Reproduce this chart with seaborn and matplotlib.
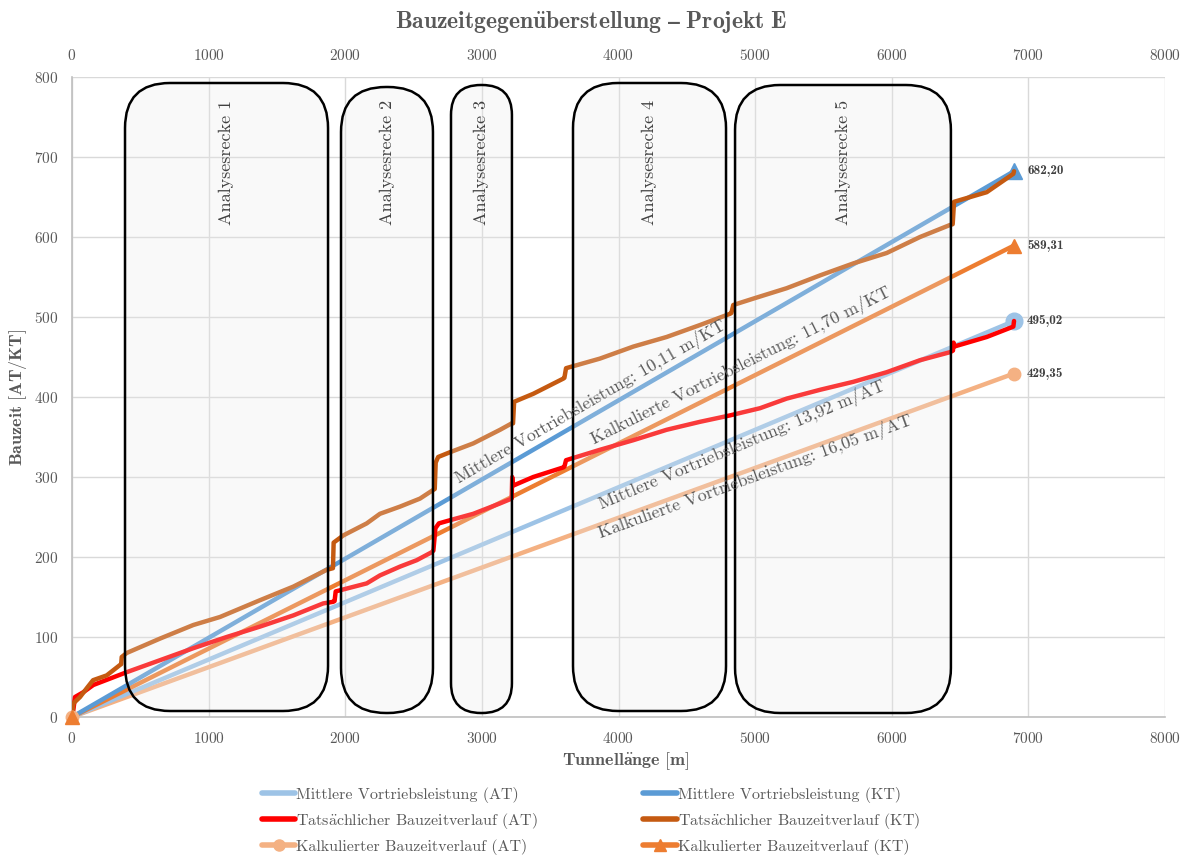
import math
import numpy as np
import pandas as pd
import matplotlib
matplotlib.use("Agg")
import matplotlib.pyplot as plt
from matplotlib.patches import FancyBboxPatch
from matplotlib.lines import Line2D
import seaborn as sns

# ---------------------------------------------------------------- data
tunnel_length = 6895.0  # m

end_mean_at = 495.02   # Mittlere Vortriebsleistung (AT)
end_mean_kt = 682.20   # Mittlere Vortriebsleistung (KT)
end_calc_at = 429.35   # Kalkulierter Bauzeitverlauf (AT)
end_calc_kt = 589.31   # Kalkulierter Bauzeitverlauf (KT)

# Tatsächlicher Bauzeitverlauf (KT)
kt_x = [0, 10, 59, 108, 154, 254, 351, 360, 364, 400, 644, 888, 1083, 1376,
        1620, 1864, 1910, 1915, 1986, 2157, 2254, 2401, 2547, 2645, 2655,
        2662, 2680, 2767, 2937, 3133, 3218, 3228, 3236, 3376, 3596, 3604,
        3616, 3864, 4108, 4352, 4597, 4816, 4826, 4840, 4987, 5231, 5475,
        5719, 5963, 6207, 6426, 6446, 6456, 6695, 6890, 6895]
kt_y = [0, 17, 25, 36, 46, 52, 65, 66, 75, 80, 98, 115, 125, 146,
        163, 184, 186, 218, 227, 242, 254, 263, 273, 284, 285,
        318, 325, 331, 342, 359, 367, 367, 394, 404, 423, 424,
        436, 448, 463, 475, 490, 504, 505, 515, 523, 536, 552,
        567, 580, 600, 615, 616, 644, 656, 679, 682.20]

# Tatsächlicher Bauzeitverlauf (AT)
at_x = [0, 10, 22, 83, 156, 278, 400, 644, 888, 1132, 1376, 1620, 1839,
        1912, 1922, 1930, 2157, 2254, 2401, 2523, 2633, 2645, 2660, 2685,
        2767, 2937, 3133, 3218, 3222, 3226, 3376, 3596, 3604, 3616, 3864,
        4108, 4352, 4597, 4816, 5036, 5231, 5475, 5719, 5963, 6207, 6426,
        6448, 6452, 6456, 6695, 6890, 6895]
at_y = [0, 9, 25, 31, 40, 48, 56, 71, 86, 100, 113, 127, 142,
        144, 145, 157, 167, 177, 188, 196, 206, 208, 236, 242,
        246, 254, 267, 273, 300, 289, 300, 312, 313, 321, 334,
        346, 359, 369, 377, 386, 398, 409, 419, 431, 446, 456,
        458, 468, 463, 475, 488, 495.02]

# Analysestrecken: start / end [m], bottom / top [AT/KT]
sections = ["Analysesrecke 1", "Analysesrecke 2", "Analysesrecke 3",
            "Analysesrecke 4", "Analysesrecke 5"]
sec_x0 = [388, 1969, 2774, 3667, 4853]
sec_x1 = [1874, 2642, 3220, 4787, 6433]
sec_y0 = [7.5, 5, 5, 7.5, 5]
sec_y1 = [792.5, 787.5, 790, 792.5, 790]

x_ticks = list(range(0, 8001, 1000))
y_ticks = list(range(0, 801, 100))

# ---------------------------------------------------------------- style
sns.set_theme(style="whitegrid")
plt.rcParams["font.family"] = ["cmr10", "DejaVu Serif"]
plt.rcParams["axes.formatter.use_mathtext"] = True
plt.rcParams["mathtext.fontset"] = "cm"
BOLD = ["cmb10", "DejaVu Serif"]

TXT = "#595959"
C_MEAN_AT = "#9DC3E6"
C_MEAN_KT = "#5B9BD5"
C_ACT_AT = "#FF0000"
C_ACT_KT = "#C55A11"
C_CALC_AT = "#F4B183"
C_CALC_KT = "#ED7D31"
LW = 3.2

fig = plt.figure(figsize=(11.82, 8.56), dpi=100)
ax = fig.add_axes([72 / 1182, 1 - 717 / 856, (1165 - 72) / 1182, (717 - 77) / 856])
ax.set_xlim(0, 8000)
ax.set_ylim(0, 800)
ax.set_facecolor("white")

ax.grid(True, color="#D9D9D9", lw=1.0)
for s in ["top", "right"]:
    ax.spines[s].set_visible(False)
for s in ["left", "bottom"]:
    ax.spines[s].set_color("#BFBFBF")
    ax.spines[s].set_linewidth(1.2)

ax.set_xticks(x_ticks)
ax.set_yticks(y_ticks)
ax.tick_params(axis="both", length=0, pad=10, labelsize=11, labelcolor=TXT)
sec = ax.secondary_xaxis("top")
sec.set_xticks(x_ticks)
sec.tick_params(length=0, pad=10, labelsize=11, labelcolor=TXT)
sec.spines["top"].set_visible(False)

# ---------------------------------------------------------------- lines
mean_at = pd.DataFrame({"x": [0, tunnel_length], "y": [0, end_mean_at]})
mean_kt = pd.DataFrame({"x": [0, tunnel_length], "y": [0, end_mean_kt]})
calc_at = pd.DataFrame({"x": [0, tunnel_length], "y": [0, end_calc_at]})
calc_kt = pd.DataFrame({"x": [0, tunnel_length], "y": [0, end_calc_kt]})
act_at = pd.DataFrame({"x": at_x, "y": at_y})
act_kt = pd.DataFrame({"x": kt_x, "y": kt_y})

kw = dict(x="x", y="y", ax=ax, sort=False, estimator=None, lw=LW, legend=False)
sns.lineplot(data=calc_at, color=C_CALC_AT, zorder=3, **kw)
sns.lineplot(data=mean_at, color=C_MEAN_AT, zorder=3, **kw)
sns.lineplot(data=calc_kt, color=C_CALC_KT, zorder=3, **kw)
sns.lineplot(data=mean_kt, color=C_MEAN_KT, zorder=3, **kw)
sns.lineplot(data=act_at, color=C_ACT_AT, zorder=4, **kw)
sns.lineplot(data=act_kt, color=C_ACT_KT, zorder=4, **kw)
ax.set_xlabel("")
ax.set_ylabel("")

# markers
ax.plot(calc_at["x"], calc_at["y"], ls="none", marker="o", ms=9,
        color=C_CALC_AT, zorder=5, clip_on=False)
ax.plot(calc_kt["x"], calc_kt["y"], ls="none", marker="^", ms=10,
        color=C_CALC_KT, zorder=5, clip_on=False)
ax.plot([tunnel_length], [end_mean_at], ls="none", marker="o", ms=12,
        color=C_MEAN_AT, zorder=3.5, clip_on=False)
ax.plot([tunnel_length], [end_mean_kt], ls="none", marker="^", ms=11,
        color=C_MEAN_KT, zorder=3.5, clip_on=False)

# end values
for v in [end_mean_kt, end_calc_kt, end_mean_at, end_calc_at]:
    ax.text(6990, v, f"{v:.2f}".replace(".", ","), ha="left", va="center",
            fontsize=9.5, family=BOLD, weight="bold", color="#404040", zorder=8)

# ---------------------------------------------------------------- sections
px_x = 8000 / (1165 - 72)     # data units per pixel, x
px_y = 800 / (717 - 77)       # data units per pixel, y
aspect = px_y / px_x
for name, x0, x1, y0, y1 in zip(sections, sec_x0, sec_x1, sec_y0, sec_y1):
    w = x1 - x0
    r = min(45 * px_x, w / 2 * 0.98)
    box = FancyBboxPatch((x0, y0), w, y1 - y0,
                         boxstyle=f"round,pad=0,rounding_size={r}",
                         mutation_aspect=aspect,
                         facecolor=(0.92, 0.92, 0.92, 0.25), edgecolor="black",
                         lw=1.8, zorder=6)
    ax.add_patch(box)
    ax.text((x0 + x1) / 2, 771, name, rotation=90, ha="center", va="top",
            fontsize=13, color="#404040", zorder=7)

# ---------------------------------------------------------------- slope labels
def slope_label(text, x, y, end_value):
    p0 = ax.transData.transform((0, 0))
    p1 = ax.transData.transform((tunnel_length, end_value))
    ang = math.degrees(math.atan2(p1[1] - p0[1], p1[0] - p0[0]))
    ax.text(x, y, text, rotation=ang, rotation_mode="anchor", ha="center",
            va="center", fontsize=12.8, color=TXT, zorder=7)

slope_label("Mittlere Vortriebsleistung: 10,11 m/KT", 3791, 394, end_mean_kt)
slope_label("Kalkulierte Vortriebsleistung: 11,70 m/KT", 4896, 440, end_calc_kt)
slope_label("Mittlere Vortriebsleistung: 13,92 m/AT", 4904, 340, end_mean_at)
slope_label("Kalkulierte Vortriebsleistung: 16,05 m/AT", 4999, 300, end_calc_at)

# ---------------------------------------------------------------- titles
fig.text(0.5, 1 - 22 / 856,
         r"$\mathbf{Bauzeitgegen\ddot{u}berstellung\ –\ Projekt\ E}$",
         ha="center", va="center", fontsize=17, color=TXT)
fig.text(626 / 1182, 1 - 761 / 856, r"$\mathbf{Tunnell\ddot{a}nge\ [m]}$",
         ha="center", va="center", fontsize=13, color=TXT)
fig.text(18 / 1182, 1 - 397 / 856, r"$\mathbf{Bauzeit\ [AT/KT]}$",
         ha="center", va="center", rotation=90, fontsize=13, color=TXT)

# ---------------------------------------------------------------- legend
handles = [
    Line2D([], [], color=C_MEAN_AT, lw=LW + 0.8),
    Line2D([], [], color=C_ACT_AT, lw=LW + 0.8),
    Line2D([], [], color=C_CALC_AT, lw=LW + 0.8, marker="o", ms=8),
    Line2D([], [], color=C_MEAN_KT, lw=LW + 0.8),
    Line2D([], [], color=C_ACT_KT, lw=LW + 0.8),
    Line2D([], [], color=C_CALC_KT, lw=LW + 0.8, marker="^", ms=9),
]
labels = [
    "Mittlere Vortriebsleistung (AT)",
    r"Tats$\ddot{\mathrm{a}}$chlicher Bauzeitverlauf (AT)",
    "Kalkulierter Bauzeitverlauf (AT)",
    "Mittlere Vortriebsleistung (KT)",
    r"Tats$\ddot{\mathrm{a}}$chlicher Bauzeitverlauf (KT)",
    "Kalkulierter Bauzeitverlauf (KT)",
]
leg = fig.legend(handles, labels, loc="upper center", bbox_to_anchor=(0.5, 1 - 779 / 856),
                 ncol=2, frameon=False, fontsize=11.5, handlelength=2.1,
                 handletextpad=0.05, columnspacing=6.6, labelspacing=0.5,
                 borderpad=0)
for t in leg.get_texts():
    t.set_color(TXT)

fig.savefig("out.png", dpi=100)
